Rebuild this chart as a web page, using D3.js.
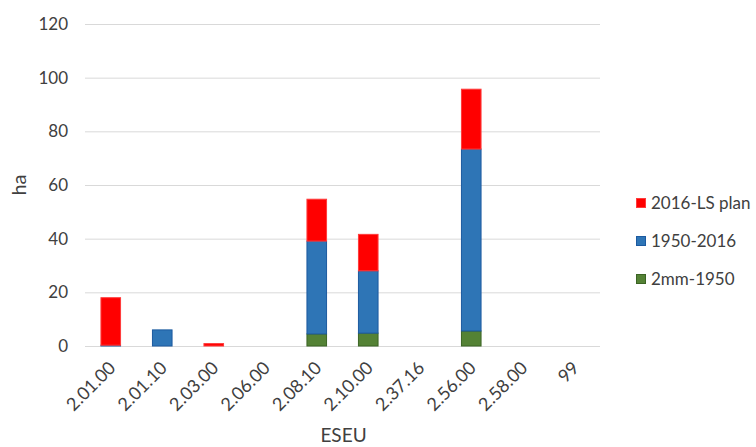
<!DOCTYPE html>
<html>
<head>
<meta charset="utf-8">
<script src="https://cdn.jsdelivr.net/npm/d3@7"></script>
<style>
  html, body { margin: 0; padding: 0; background: #fff; }
  svg text { font-family: Lato, "Open Sans", sans-serif; fill: #404040; }
</style>
</head>
<body>
<svg id="chart" width="756" height="447"></svg>
<script>
// ESEU codes along the x axis
const categories = ["2.01.00", "2.01.10", "2.03.00", "2.06.00", "2.08.10", "2.10.00", "2.37.16", "2.56.00", "2.58.00", "99"];

// Area (ha) per period, stacked bottom to top
const seriesNames = ["2mm-1950", "1950-2016", "2016-LS plan"];
const area2mm1950   = [0,   0,   0,   0, 4.5,  4.8, 0,  5.6, 0, 0];
const area1950_2016 = [0.3, 6,   0,   0, 34.6, 23.2, 0, 67.8, 0, 0];
const area2016LS    = [17.7, 0,  0.9, 0, 15.6, 13.6, 0, 22.3, 0, 0];

const yTicks = [0, 20, 40, 60, 80, 100, 120];
const colors = { "2mm-1950": "#548235", "1950-2016": "#2E75B6", "2016-LS plan": "#FF0000" };
const strokes = { "2mm-1950": "#3B6424", "1950-2016": "#1C5AA0", "2016-LS plan": "#FF3B3B" };

const svg = d3.select("#chart");
const margin = { left: 85, right: 156, top: 24, bottom: 101 };
const W = 756, H = 447;

const x = d3.scaleBand().domain(categories)
  .range([margin.left, W - margin.right]).paddingInner(0.6).paddingOuter(0.3);
const y = d3.scaleLinear().domain([0, 120]).range([H - margin.bottom, margin.top]);

// gridlines
svg.append("g").selectAll("line").data(yTicks).join("line")
  .attr("x1", margin.left).attr("x2", W - margin.right)
  .attr("y1", d => y(d) + 0.5).attr("y2", d => y(d) + 0.5)
  .attr("stroke", "#D9D9D9").attr("stroke-width", 1);

// y axis labels
const yAxis = d3.axisLeft(y).tickValues(yTicks).tickSize(0).tickPadding(17);
const gy = svg.append("g").attr("transform", `translate(${margin.left},0)`).call(yAxis);
gy.select(".domain").remove();
gy.selectAll("text").attr("font-size", 17).attr("font-family", "Lato, 'Open Sans', sans-serif").attr("fill", "#404040");

// stacked bars
const rows = categories.map((c, i) => ({
  cat: c,
  "2mm-1950": area2mm1950[i],
  "1950-2016": area1950_2016[i],
  "2016-LS plan": area2016LS[i]
}));
const stacked = d3.stack().keys(seriesNames)(rows);

svg.append("g").selectAll("g").data(stacked).join("g")
  .attr("fill", d => colors[d.key])
  .attr("stroke", d => strokes[d.key])
  .selectAll("rect").data(d => d.filter(p => p[1] - p[0] > 0)).join("rect")
  .attr("x", d => x(d.data.cat) + 0.5)
  .attr("width", x.bandwidth() - 1)
  .attr("y", d => y(d[1]))
  .attr("height", d => Math.max(0, y(d[0]) - y(d[1])))
  .attr("stroke-width", 1);

// x axis labels, rotated
const xAxis = d3.axisBottom(x).tickSize(0).tickPadding(0);
const gx = svg.append("g").attr("transform", `translate(0,${y(0)})`).call(xAxis);
gx.select(".domain").remove();
gx.selectAll("text")
  .attr("font-size", 18)
  .attr("font-family", "Lato, 'Open Sans', sans-serif")
  .attr("fill", "#404040")
  .attr("text-anchor", "end")
  .attr("dy", null)
  .attr("y", null)
  .attr("transform", "translate(6,23) rotate(-45)");

// axis titles
svg.append("text")
  .attr("transform", `translate(26,${(y(0) + y(120)) / 2}) rotate(-90)`)
  .attr("text-anchor", "middle").attr("font-size", 20).text("ha");
svg.append("text")
  .attr("x", 343.5).attr("y", 442)
  .attr("text-anchor", "middle").attr("font-size", 19).text("ESEU");

// legend
const legendItems = ["2016-LS plan", "1950-2016", "2mm-1950"];
const lg = svg.append("g").attr("transform", "translate(636,203)");
const li = lg.selectAll("g").data(legendItems).join("g")
  .attr("transform", (d, i) => `translate(0,${i * 38})`);
li.append("rect").attr("x", 0.5).attr("y", -4.5).attr("width", 9).attr("height", 9)
  .attr("fill", d => colors[d]).attr("stroke", d => strokes[d]);
li.append("text").attr("x", 15).attr("y", 0).attr("dy", "0.36em")
  .attr("font-size", 17).text(d => d);
</script>
</body>
</html>
